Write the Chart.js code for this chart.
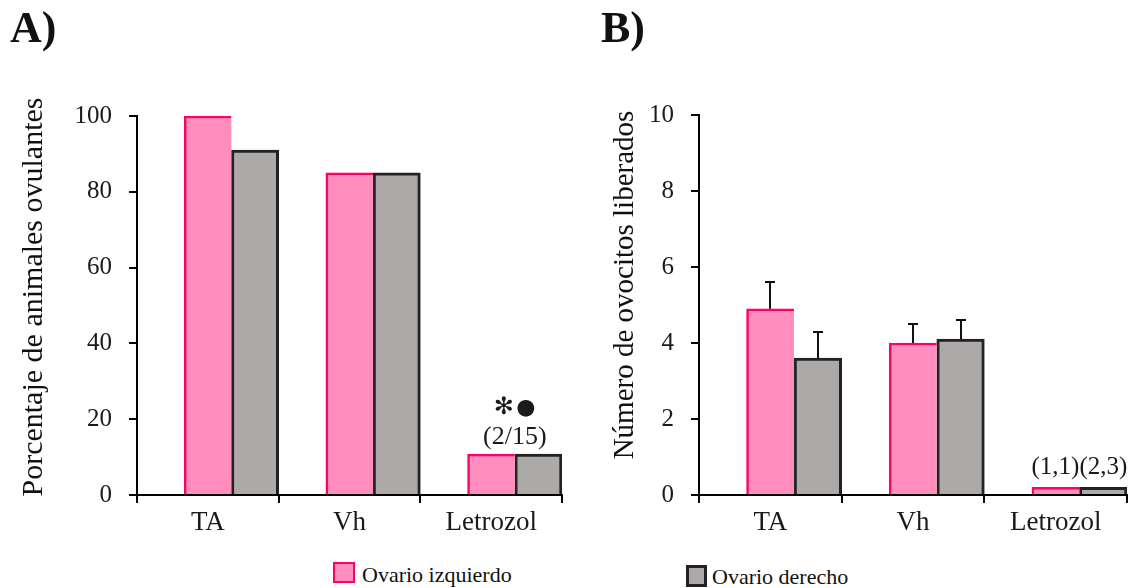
<!DOCTYPE html>
<html>
<head>
<meta charset="utf-8">
<script src="https://cdn.jsdelivr.net/npm/chart.js@4/dist/chart.umd.min.js"></script>
<style>
  html, body { margin: 0; padding: 0; background: #fff; }
  #wrap { position: relative; width: 1137px; height: 588px; overflow: hidden;
          font-family: "Liberation Serif", "Times New Roman", serif; color: #111; }
  .panel { position: absolute; top: 0; height: 560px; }
  #pa { left: 0; width: 580px; }
  #pb { left: 580px; width: 557px; }
  .tag { position: absolute; font-weight: bold; font-size: 44px; line-height: 44px; }
  .ytitle { position: absolute; line-height: 30px; white-space: nowrap;
            transform: translate(-50%, -50%) rotate(-90deg); }
  .sw { position: absolute; box-sizing: border-box; }
  .lg { position: absolute; font-size: 22px; line-height: 22px; white-space: nowrap; }
</style>
</head>
<body>
<div id="wrap">
  <div class="panel" id="pa"><canvas id="ca"></canvas></div>
  <div class="panel" id="pb"><canvas id="cb"></canvas></div>

  <div class="tag" style="left:10px; top:6px">A)</div>
  <div class="tag" style="left:601px; top:6px">B)</div>

  <div class="ytitle" style="left:32px; top:297px; font-size:30px">Porcentaje de animales ovulantes</div>
  <div class="ytitle" style="left:623px; top:285px; font-size:29px">Número de ovocitos liberados</div>

  <div class="sw" style="left:333px; top:562px; width:22px; height:21px; background:#FF8DBE; border:2.5px solid #FF0066"></div>
  <div class="lg" style="left:362px; top:564px">Ovario izquierdo</div>
  <div class="sw" style="left:686px; top:565px; width:21px; height:22px; background:#ADA9A9; border:3px solid #222"></div>
  <div class="lg" style="left:712px; top:566px">Ovario derecho</div>
</div>

<script>
// ---- data ----
const categories = ['TA', 'Vh', 'Letrozol'];

// A) percentage of ovulating animals, left / right ovary
const pctLeft  = [100, 85, 10.8];
const pctRight = [91, 85, 10.8];
const pctTicks = [0, 20, 40, 60, 80, 100];

// B) number of released oocytes (mean + SEM), left / right ovary
const oocLeft     = [4.9, 4.0, 0.2];
const oocRight    = [3.6, 4.1, 0.2];
const oocLeftErr  = [0.7, 0.5, null];
const oocRightErr = [0.7, 0.5, null];
const oocTicks    = [0, 2, 4, 6, 8, 10];

// notes written above the Letrozol group
const notesA = ['✻', '●', '(2/15)'];
const notesB = ['(1,1)(2,3)'];

// ---- styling ----
const SERIF = '"Liberation Serif", "Times New Roman", serif';
const PINK = '#FF8DBE', PINK_EDGE = '#FF0066';
const GRAY = '#ADA9A9', GRAY_EDGE = '#222222';
const INK = '#1a1a1a';

Chart.defaults.font.family = SERIF;
Chart.defaults.color = INK;

// upward error bars with a cap, drawn over the bars
const errorBars = {
  id: 'errorBars',
  afterDatasetsDraw(chart, args, opts) {
    const errs = opts.errors || [];
    const { ctx } = chart;
    const y = chart.scales.y;
    ctx.save();
    ctx.strokeStyle = '#111';
    ctx.lineWidth = 2;
    errs.forEach((arr, di) => {
      if (!arr) return;
      const meta = chart.getDatasetMeta(di);
      const values = chart.data.datasets[di].data;
      arr.forEach((e, i) => {
        if (e == null || values[i] == null) return;
        const bar = meta.data[i];
        const x = Math.round(bar.x);
        const y0 = y.getPixelForValue(values[i]);
        const y1 = Math.round(y.getPixelForValue(values[i] + e));
        ctx.beginPath();
        ctx.moveTo(x, y0);
        ctx.lineTo(x, y1);
        ctx.moveTo(x - 5, y1);
        ctx.lineTo(x + 5, y1);
        ctx.stroke();
      });
    });
    ctx.restore();
  }
};

// text pieces placed over one category's bar group
const groupNotes = {
  id: 'groupNotes',
  afterDatasetsDraw(chart, args, opts) {
    if (!opts.lines) return;
    const { ctx } = chart;
    const y = chart.scales.y;
    const i = opts.index;
    const a = chart.getDatasetMeta(1).data[i];
    const b = chart.getDatasetMeta(2).data[i];
    const cx = (a.x + b.x) / 2;
    const top = Math.min(
      y.getPixelForValue(chart.data.datasets[1].data[i]),
      y.getPixelForValue(chart.data.datasets[2].data[i])
    );
    ctx.save();
    ctx.fillStyle = INK;
    ctx.textAlign = 'center';
    ctx.textBaseline = 'middle';
    opts.lines.forEach(l => {
      ctx.font = l.font;
      ctx.fillText(l.text, cx + (l.dx || 0), top - l.rise);
    });
    ctx.restore();
  }
};

function makeChart(canvasId, cfg) {
  return new Chart(document.getElementById(canvasId), {
    type: 'bar',
    data: {
      labels: categories,
      datasets: [
        { label: 'spacer', data: categories.map(() => null), backgroundColor: 'rgba(0,0,0,0)' },
        { label: 'Ovario izquierdo', data: cfg.left, backgroundColor: PINK, borderColor: PINK_EDGE,
          borderWidth: { top: 2.5, left: 2.5, right: 0, bottom: 0 } },
        { label: 'Ovario derecho', data: cfg.right, backgroundColor: GRAY, borderColor: GRAY_EDGE,
          borderWidth: { top: 3, left: 3, right: 3, bottom: 0 } }
      ]
    },
    options: {
      responsive: true,
      maintainAspectRatio: false,
      animation: false,
      events: [],
      datasets: { bar: { categoryPercentage: 1, barPercentage: 1 } },
      layout: { padding: cfg.padding },
      plugins: {
        legend: { display: false },
        tooltip: { enabled: false },
        errorBars: { errors: cfg.errors },
        groupNotes: cfg.notes
      },
      scales: {
        x: {
          grid: { offset: true, drawOnChartArea: false, tickLength: 8, color: '#000', lineWidth: 2 },
          border: { display: true, color: '#000', width: 2 },
          ticks: { padding: 4, color: INK, font: { family: SERIF, size: 27 } },
          afterFit: s => { s.height = 60; }
        },
        y: {
          min: cfg.ticks[0],
          max: cfg.ticks[cfg.ticks.length - 1],
          afterBuildTicks: s => { s.ticks = cfg.ticks.map(v => ({ value: v })); },
          grid: { drawOnChartArea: false, tickLength: 8, color: '#000', lineWidth: 2 },
          border: { display: true, color: '#000', width: 2 },
          ticks: { padding: 17, color: INK, font: { family: SERIF, size: 25 } },
          afterFit: s => { s.width = cfg.axisWidth; }
        }
      }
    },
    plugins: [errorBars, groupNotes]
  });
}

makeChart('ca', {
  left: pctLeft, right: pctRight, ticks: pctTicks,
  errors: null,
  axisWidth: 137,
  padding: { left: 0, top: 116, right: 18, bottom: 5 },
  notes: {
    index: 2,
    lines: [
      { text: notesA[0], font: 'bold 24px "DejaVu Sans"', rise: 46, dx: -11 },
      { text: notesA[1], font: '22px "DejaVu Sans"', rise: 46, dx: 11 },
      { text: notesA[2], font: '26px ' + SERIF, rise: 17 }
    ]
  }
});

makeChart('cb', {
  left: oocLeft, right: oocRight, ticks: oocTicks,
  errors: [null, oocLeftErr, oocRightErr],
  axisWidth: 119,
  padding: { left: 0, top: 115, right: 10, bottom: 5 },
  notes: {
    index: 2,
    lines: [
      { text: notesB[0], font: '25px ' + SERIF, rise: 20 }
    ]
  }
});
</script>
</body>
</html>
